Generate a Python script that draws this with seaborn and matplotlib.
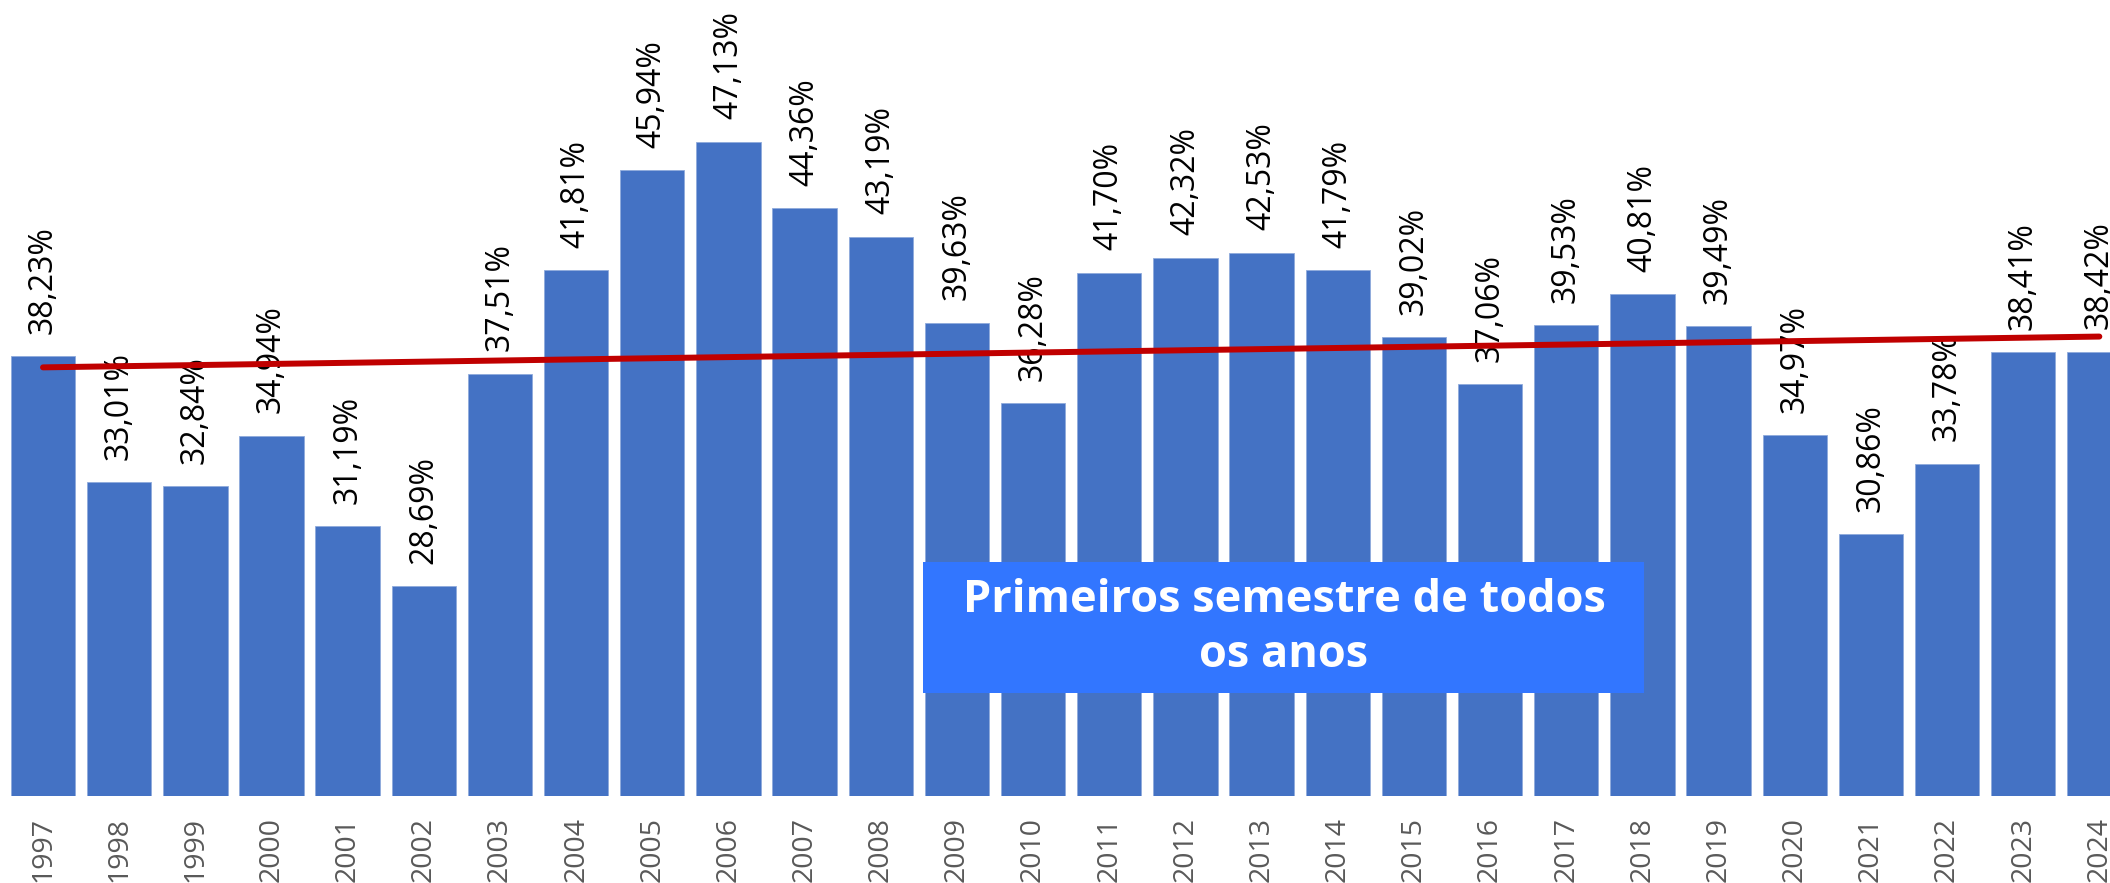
import numpy as np
import pandas as pd
import seaborn as sns
import matplotlib.pyplot as plt
from matplotlib.patches import Rectangle

anos = [str(a) for a in range(1997, 2025)]
valores = [38.23, 33.01, 32.84, 34.94, 31.19, 28.69, 37.51, 41.81, 45.94, 47.13,
           44.36, 43.19, 39.63, 36.28, 41.70, 42.32, 42.53, 41.79, 39.02, 37.06,
           39.53, 40.81, 39.49, 34.97, 30.86, 33.78, 38.41, 38.42]
titulo = 'Primeiros semestre de todos\nos anos'

df = pd.DataFrame({'ano': anos, 'valor': valores})

sns.set_style('white')
plt.rcParams['font.family'] = ['Open Sans', 'DejaVu Sans']

fig = plt.figure(figsize=(21.1, 8.83), dpi=100)
ax = fig.add_axes([0, 87 / 883, 1, 796 / 883])

sns.barplot(data=df, x='ano', y='valor', color='#4472C4', saturation=1,
            width=0.845, edgecolor='#8FAADC', linewidth=0.6, ax=ax)

for i, v in enumerate(df['valor']):
    ax.annotate(f'{v:.2f}%'.replace('.', ','), (i, v), xytext=(0, 16),
                textcoords='offset points', rotation=90, ha='center',
                va='bottom', fontsize=23, color='black')

# linha de tendencia
x = np.arange(len(df))
coef = np.polyfit(x, df['valor'], 1)
ax.plot(x, np.polyval(coef, x), color='#C00000', linewidth=4.3,
        solid_capstyle='round', zorder=5)

ax.set_ylim(20, 53)
ax.set_xlim(-0.565, 27.14)
ax.set_xlabel('')
ax.set_ylabel('')
ax.set_yticks([])
ax.tick_params(axis='x', rotation=90, labelsize=20.5, labelcolor='#595959',
               length=0, pad=15)
for lbl in ax.get_xticklabels():
    lbl.set_va('top')
sns.despine(ax=ax, left=True, bottom=True)

# caixa de texto
fig.patches.append(Rectangle((923 / 2110, 1 - 693 / 883), 721 / 2110, 131 / 883,
                             transform=fig.transFigure, facecolor='#3276FF',
                             edgecolor='none', zorder=10))
fig.text(1284 / 2110, 1 - 628 / 883, titulo, ha='center', va='center',
         fontsize=32.5, fontweight='bold', color='white', linespacing=1.3,
         zorder=11)

fig.savefig('out.png', dpi=100)
